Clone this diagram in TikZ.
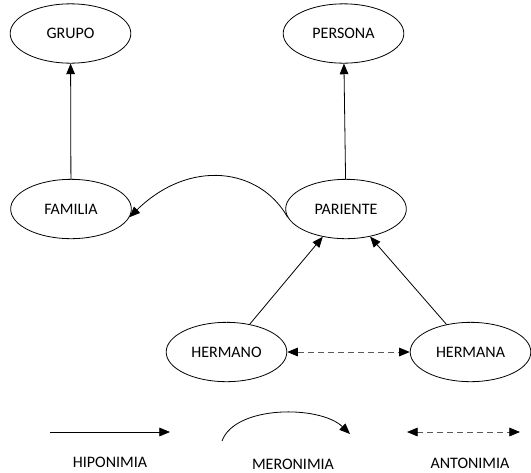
\documentclass[tikz,border=0pt]{standalone}
\usepackage{fontspec}
\setmainfont{Carlito}
\usetikzlibrary{shapes.geometric,arrows.meta}
\begin{document}
\begin{tikzpicture}[x=0.75pt,y=-0.75pt,
  concept/.style={ellipse,draw,line width=0.6pt,minimum width=90.5pt,minimum height=44.5pt,inner sep=0pt,font=\fontsize{12}{14}\selectfont},
  tip/.style={-{Triangle[length=8pt,width=6.5pt]}},
  rel/.style={line width=0.6pt,tip},
  anto/.style={line width=0.6pt,dashed,dash pattern=on 4.5pt off 3pt,draw=black!65,
    {Triangle[length=8pt,width=6.5pt,fill=black,color=black]}-{Triangle[length=8pt,width=6.5pt,fill=black,color=black]}},
  lbl/.style={font=\fontsize{12}{14}\selectfont}]
\useasboundingbox (0,0) rectangle (531,472);

% concept nodes
\node[concept] (grupo)    at (70.5,33.5)  {GRUPO};
\node[concept] (persona)  at (343.5,33.5) {PERSONA};
\node[concept] (familia)  at (71,209)     {FAMILIA};
\node[concept] (pariente) at (346,209)    {PARIENTE};
\node[concept] (hermano)  at (226.5,352)  {HERMANO};
\node[concept] (hermana)  at (470.5,352)  {HERMANA};

% hyponymy
\draw[rel] (familia) -- (grupo);
\draw[rel] (pariente) -- (persona);
\draw[rel] (hermano) -- (pariente);
\draw[rel] (hermana) -- (pariente);

% meronymy
\draw[rel] (pariente.188) .. controls (260,168) and (190,158) .. (familia.-8);

% antonymy
\draw[anto] (hermano) -- (hermana);

% legend
\coordinate (h1) at (50,432);
\coordinate (h2) at (170,432);
\draw[rel] (h1) -- (h2);
\node[lbl] (hlab) at (110,462) {HIPONIMIA};

\coordinate (m1) at (222,441);
\coordinate (m2) at (350,434);
\draw[rel] (m1) .. controls (235,405) and (320,405) .. (m2);
\node[lbl] (mlab) at (293,464) {MERONIMIA};

\coordinate (a1) at (407,432);
\coordinate (a2) at (520,432);
\draw[anto] (a1) -- (a2);
\node[lbl] (alab) at (470,463) {ANTONIMIA};
\end{tikzpicture}
\end{document}
